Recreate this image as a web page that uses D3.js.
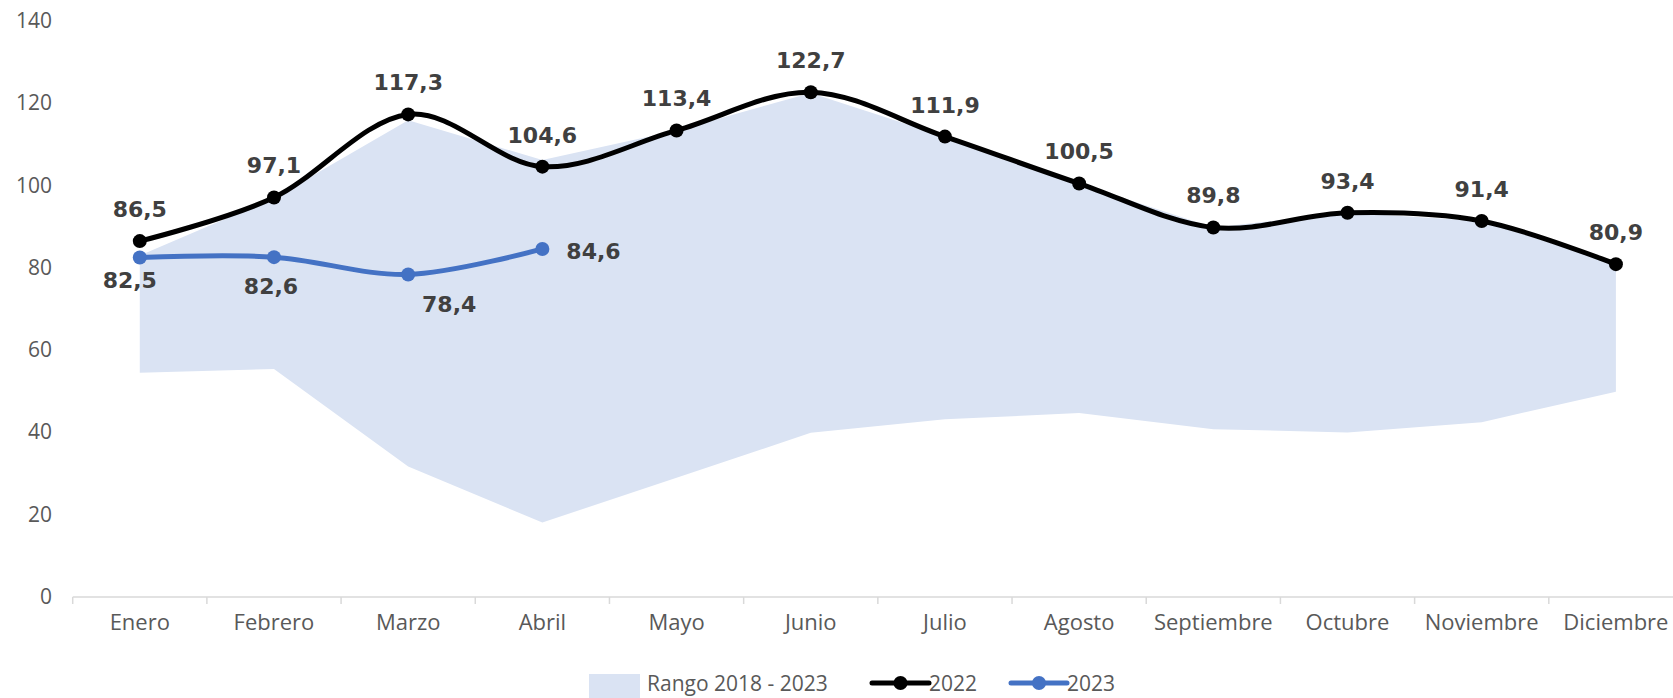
<!DOCTYPE html>
<html>
<head>
<meta charset="utf-8">
<script src="https://cdn.jsdelivr.net/npm/d3@7"></script>
<style>
  html, body { margin: 0; padding: 0; background: #fff; overflow: hidden; }
  svg { display: block; }
</style>
</head>
<body>
<svg id="chart" width="1673" height="698"></svg>
<script>
const months = ['Enero', 'Febrero', 'Marzo', 'Abril', 'Mayo', 'Junio', 'Julio',
  'Agosto', 'Septiembre', 'Octubre', 'Noviembre', 'Diciembre'];
const rangeLow = [54.5, 55.4, 31.7, 18.1, 29.0, 39.9, 43.2, 44.7, 40.8, 40.0, 42.5, 49.9];
const rangeHigh = [83.0, 97.0, 115.9, 106.2, 113.4, 122.5, 111.9, 100.5, 89.8, 93.4, 91.4, 80.9];
const values2022 = [86.5, 97.1, 117.3, 104.6, 113.4, 122.7, 111.9, 100.5, 89.8, 93.4, 91.4, 80.9];
const values2023 = [82.5, 82.6, 78.4, 84.6];
const yTicks = [0, 20, 40, 60, 80, 100, 120, 140];
const legendLabels = ['Rango 2018 - 2023', '2022', '2023'];

const svg = d3.select('#chart');
const width = +svg.attr('width');

const axisFont = "'Open Sans', 'Noto Sans', sans-serif";
const labelFont = "'DejaVu Sans', Verdana, sans-serif";
const textColor = '#595959';
const labelColor = '#404040';
const black = '#000000';
const blue = '#4472c4';

// scales: the plot runs a bit past the right edge, like the original
const x = d3.scaleBand().domain(months).range([72.7, 1683]).paddingInner(0).paddingOuter(0);
const cx = m => x(m) + x.bandwidth() / 2;
const y = d3.scaleLinear().domain([0, 140]).range([597, 21]);

const rangeData = months.map((m, i) => ({ m, lo: rangeLow[i], hi: rangeHigh[i] }));
const data2022 = months.map((m, i) => ({ m, v: values2022[i] }));
const data2023 = values2023.map((v, i) => ({ m: months[i], v }));

//
// range band
//
svg.append('path')
  .datum(rangeData)
  .attr('fill', '#dae3f3')
  .attr('d', d3.area()
    .x(d => cx(d.m))
    .y0(d => y(d.lo))
    .y1(d => y(d.hi)));

//
// x axis: line + ticks between categories
//
const xAxis = svg.append('g');
xAxis.append('line')
  .attr('x1', x.range()[0]).attr('x2', width)
  .attr('y1', y(0)).attr('y2', y(0))
  .attr('stroke', '#d9d9d9').attr('stroke-width', 1.5);
xAxis.selectAll('line.tick')
  .data(months.concat(['_end']))
  .join('line')
  .attr('class', 'tick')
  .attr('x1', (d, i) => x.range()[0] + i * x.bandwidth())
  .attr('x2', (d, i) => x.range()[0] + i * x.bandwidth())
  .attr('y1', y(0)).attr('y2', y(0) + 7)
  .attr('stroke', '#d9d9d9').attr('stroke-width', 1.5);
xAxis.selectAll('text')
  .data(months)
  .join('text')
  .attr('x', d => cx(d))
  .attr('y', 630)
  .attr('text-anchor', 'middle')
  .attr('font-family', axisFont)
  .attr('font-size', 22)
  .attr('fill', textColor)
  .text(d => d);

//
// y axis labels only
//
svg.append('g').selectAll('text')
  .data(yTicks)
  .join('text')
  .attr('x', 52)
  .attr('y', d => y(d) + 7)
  .attr('text-anchor', 'end')
  .attr('font-family', axisFont)
  .attr('font-size', 21)
  .attr('fill', textColor)
  .text(d => d);

//
// smoothed lines, Excel-style
//
const smooth = d3.line()
  .x(d => cx(d.m))
  .y(d => y(d.v))
  .curve(d3.curveCardinal.tension(0));

function drawSeries(data, color, strokeW, r) {
  const g = svg.append('g');
  g.append('path')
    .datum(data)
    .attr('fill', 'none')
    .attr('stroke', color)
    .attr('stroke-width', strokeW)
    .attr('stroke-linecap', 'round')
    .attr('d', smooth);
  g.selectAll('circle')
    .data(data)
    .join('circle')
    .attr('cx', d => cx(d.m))
    .attr('cy', d => y(d.v))
    .attr('r', r)
    .attr('fill', color);
  return g;
}

drawSeries(data2022, black, 5, 7);
drawSeries(data2023, blue, 5, 7);

const fmt = v => d3.format('.1f')(v).replace('.', ',');

// data labels: 2022 above, 2023 placed by hand like the original
const off2023 = [[-10, 23], [-3, 29], [41, 30], [24, 2]];

svg.append('g').selectAll('text')
  .data(data2022)
  .join('text')
  .attr('x', d => cx(d.m))
  .attr('y', d => y(d.v) - 32)
  .attr('dy', '0.36em')
  .attr('text-anchor', 'middle')
  .attr('font-family', labelFont)
  .attr('font-weight', 'bold')
  .attr('font-size', 22)
  .attr('fill', labelColor)
  .text(d => fmt(d.v));

svg.append('g').selectAll('text')
  .data(data2023)
  .join('text')
  .attr('x', (d, i) => cx(d.m) + off2023[i][0])
  .attr('y', (d, i) => y(d.v) + off2023[i][1])
  .attr('dy', '0.36em')
  .attr('text-anchor', (d, i) => i === 3 ? 'start' : 'middle')
  .attr('font-family', labelFont)
  .attr('font-weight', 'bold')
  .attr('font-size', 22)
  .attr('fill', labelColor)
  .text(d => fmt(d.v));

//
// legend at the bottom
//
const legend = svg.append('g');
const ly = 683;
legend.append('rect')
  .attr('x', 589).attr('y', 674).attr('width', 51).attr('height', 24)
  .attr('fill', '#dae3f3');
legend.append('text')
  .attr('x', 647).attr('y', ly + 8)
  .attr('font-family', axisFont).attr('font-size', 21).attr('fill', textColor)
  .text(legendLabels[0]);

const lineKeys = [
  { x0: 872, x1: 929, color: black, label: legendLabels[1] },
  { x0: 1011, x1: 1067, color: blue, label: legendLabels[2] }
];
lineKeys.forEach(k => {
  legend.append('line')
    .attr('x1', k.x0).attr('x2', k.x1)
    .attr('y1', ly).attr('y2', ly)
    .attr('stroke', k.color).attr('stroke-width', 5).attr('stroke-linecap', 'round');
  legend.append('circle')
    .attr('cx', (k.x0 + k.x1) / 2).attr('cy', ly).attr('r', 7)
    .attr('fill', k.color);
  legend.append('text')
    .attr('x', k.x1).attr('y', ly + 8)
    .attr('font-family', axisFont).attr('font-size', 21).attr('fill', textColor)
    .text(k.label);
});
</script>
</body>
</html>
